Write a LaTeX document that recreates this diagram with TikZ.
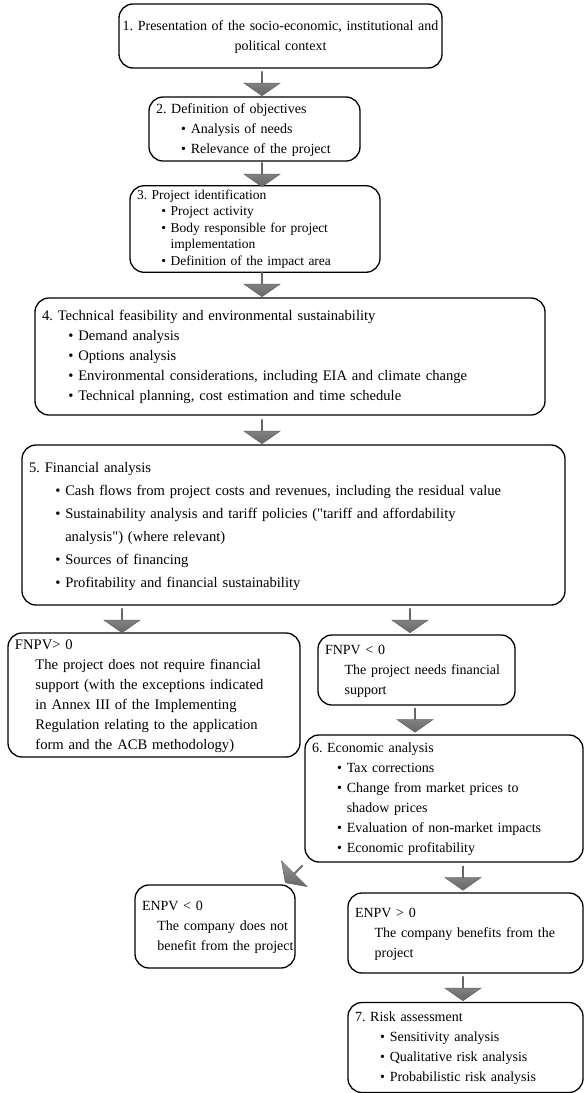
\documentclass[tikz,border=0pt]{standalone}
\usepackage{fontspec}
\setmainfont{Liberation Serif}
\usetikzlibrary{shapes.arrows}

\newcommand{\itm}{\hspace*{1.8em}\textbullet\ }
\newcommand{\cnt}{\hspace*{1.8em}\phantom{\textbullet\ }}
\newcommand{\ind}{\hspace*{1.4em}}
\newcommand{\lines}[1]{\begin{tabular}{@{}l@{}}#1\end{tabular}}
\frenchspacing

\begin{document}
\begin{tikzpicture}[x=1pt, y=-1pt,
    box/.style={draw, rounded corners=14pt, line width=1.3pt, align=left, inner xsep=7pt, inner ysep=2pt, font=\fontsize{14}{20}\selectfont},
    fatarrow/.style={single arrow, draw=black!60, top color=black!40, bottom color=black!60, line width=0.6pt, minimum width=36pt, minimum height=24pt, single arrow head extend=10pt, single arrow tip angle=110, inner sep=0pt, shape border rotate=270}]
  \useasboundingbox (0,0) rectangle (584,1093);

  % main chain
  \node[box, align=center, inner xsep=3pt, text width=317pt, minimum height=64pt] (b1) at (280.5,36) {\begin{tabular}{@{}c@{}}1. Presentation of the socio-economic, institutional and\\ political context\end{tabular}};
  \node[box, text width=197pt, minimum height=62pt] (b2) at (254.5,129) {\lines{2. Definition of objectives\\ \itm Analysis of needs\\ \itm Relevance of the project}};
  \node[box, text width=236pt, minimum height=82pt, font=\fontsize{13.5}{16.5}\selectfont] (b3) at (255,229) {\lines{3. Project identification\\ \itm Project activity\\ \itm Body responsible for project\\ \cnt implementation\\ \itm Definition of the impact area}};
  \node[box, text width=496pt, minimum height=117pt, font=\fontsize{14.6}{20}\selectfont] (b4) at (290,356.5) {\lines{4. Technical feasibility and environmental sustainability\\ \itm Demand analysis\\ \itm Options analysis\\ \itm Environmental considerations, including EIA and climate change\\ \itm Technical planning, cost estimation and time schedule}};
  \node[box, text width=529pt, minimum height=160pt, font=\fontsize{14.6}{23}\selectfont] (b5) at (293.5,525) {\lines{5. Financial analysis\\ \itm Cash flows from project costs and revenues, including the residual value\\ \itm Sustainability analysis and tariff policies (\textquotedbl tariff and affordability\\ \cnt analysis\textquotedbl) (where relevant)\\ \itm Sources of financing\\ \itm Profitability and financial sustainability}};

  % financial outcome
  \node[box, text width=278pt, minimum height=120pt, font=\fontsize{14.6}{20}\selectfont] (f1) at (154,695) {\lines{FNPV> 0\\ \ind The project does not require financial\\ \ind support (with the exceptions indicated\\ \ind in Annex III of the Implementing\\ \ind Regulation relating to the application\\ \ind form and the ACB methodology)}};
  \node[box, text width=183pt, minimum height=70pt] (f2) at (416.5,670) {\lines{FNPV < 0\\ \ind The project needs financial\\ \ind support}};

  \node[box, text width=264pt, minimum height=127pt] (b6) at (444,798.5) {\lines{6. Economic analysis\\ \itm Tax corrections\\ \itm Change from market prices to\\ \cnt shadow prices\\ \itm Evaluation of non-market impacts\\ \itm Economic profitability}};

  % economic outcome
  \node[box, text width=146pt, minimum height=83pt] (e1) at (215,926.5) {\lines{ENPV < 0\\ \hspace*{1.1em}The company does not\\ \hspace*{1.1em}benefit from the project}};
  \node[box, text width=221pt, minimum height=80pt] (e2) at (465.5,933) {\lines{ENPV > 0\\ \ind The company benefits from the\\ \ind project}};
  \node[box, text width=221pt, minimum height=90pt] (b7) at (465.5,1047.5) {\lines{7. Risk assessment\\ \itm Sensitivity analysis\\ \itm Qualitative risk analysis\\ \itm Probabilistic risk analysis}};

  % block arrows
  \node[fatarrow] (a1) at (262,83.5) {};
  \node[fatarrow] (a2) at (262,174.5) {};
  \node[fatarrow] (a3) at (262,284.5) {};
  \node[fatarrow] (a4) at (262,431.5) {};
  \node[fatarrow] (a5) at (122,620.5) {};
  \node[fatarrow] (a6) at (410,620.5) {};
  \node[fatarrow] (a7) at (415,720) {};
  \node[fatarrow, shape border uses incircle, shape border rotate=225] (a8) at (294,874) {};
  \node[fatarrow] (a9) at (463,878) {};
  \node[fatarrow] (a10) at (463,988.5) {};
\end{tikzpicture}
\end{document}
